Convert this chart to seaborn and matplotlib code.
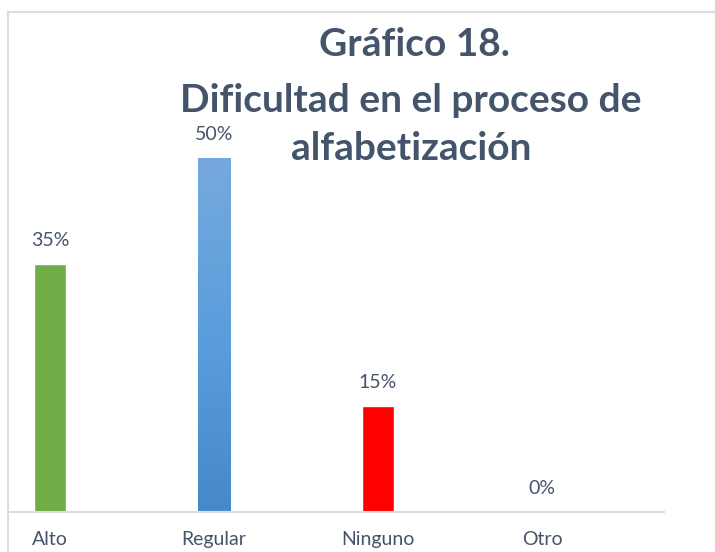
import matplotlib
matplotlib.use("Agg")
import matplotlib.pyplot as plt
import seaborn as sns
import numpy as np
from matplotlib.patches import Rectangle

# data
categories = ["Alto", "Regular", "Ninguno", "Otro"]
values = [35, 50, 15, 0]
labels = ["35%", "50%", "15%", "0%"]
colors = ["#70AD47", "#5B9BD5", "#FF0000", "#A5A5A5"]
title_lines = ["Gráfico 18.", "Dificultad en el proceso de", "alfabetización"]

sns.set_theme(style="white")
plt.rcParams['font.family'] = ['Lato', 'DejaVu Sans']

TEXT = "#44546A"
GRID = "#D9DDE3"

fig = plt.figure(figsize=(7.15, 5.52), dpi=100)
W, H = 715, 552
ax = fig.add_axes([8 / W, 40 / H, 656 / W, 500 / H])

sns.barplot(x=categories, y=values, hue=categories, palette=colors,
            width=0.2, legend=False, ax=ax, saturation=1)

# gradient on the blue bar like the original
for patch, cat in zip(ax.patches, categories):
    if cat == "Regular":
        grad = np.linspace(0, 1, 256).reshape(-1, 1)
        cmap = matplotlib.colors.LinearSegmentedColormap.from_list(
            "g", ["#4689C8", "#5A9EDD", "#76A9DC"])
        x0, y0 = patch.get_x(), patch.get_y()
        im = ax.imshow(grad, cmap=cmap, aspect="auto", origin="lower",
                       extent=[x0, x0 + patch.get_width(), y0, y0 + patch.get_height()],
                       zorder=patch.get_zorder() + 0.1)
        im.set_clip_path(patch)

for i, (v, lab) in enumerate(zip(values, labels)):
    ax.annotate(lab, (i, v), xytext=(0, 17), textcoords="offset points",
                ha="center", va="center", fontsize=14, color=TEXT)

ax.set_xlim(-0.256, 3.744)
ax.set_ylim(0, 70.6)
ax.set_yticks([])
ax.set_xlabel("")
ax.set_ylabel("")
for s in ["top", "left", "right"]:
    ax.spines[s].set_visible(False)
ax.spines["bottom"].set_color(GRID)
ax.spines["bottom"].set_linewidth(1.5)
ax.tick_params(axis="x", length=0, pad=14, labelsize=14, labelcolor=TEXT)

# outer chart frame (cropped at right and bottom)
fig.patches.append(Rectangle((8 / W, -0.2), 2, 1.2 - 12 / H, transform=fig.transFigure,
                             fill=False, edgecolor=GRID, linewidth=1.5))

# title, one line per text so it does not cover the 50% label
for line, (xc, yc) in zip(title_lines, [(414, 45), (411, 100), (411, 149)]):
    fig.text(xc / W, 1 - yc / H, line, ha="center", va="center",
             fontsize=28, fontweight="bold", color=TEXT)

fig.savefig("out.png", dpi=100)
